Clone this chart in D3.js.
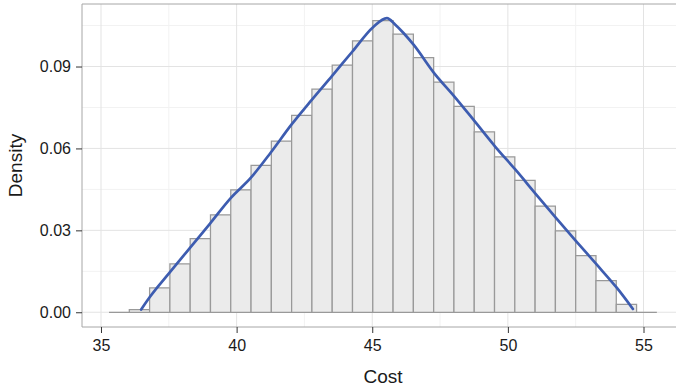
<!DOCTYPE html>
<html>
<head>
<meta charset="utf-8">
<script src="https://cdn.jsdelivr.net/npm/d3@7"></script>
<style>
  body { margin: 0; background: #fff; }
  text { font-family: "Liberation Sans", Arial, sans-serif; }
</style>
</head>
<body>
<div id="chart"></div>
<script>
// histogram bins (density per bin), bins start at binStart, each binWidth wide
const binStart = 35.296;
const binWidth = 0.748;
const binDensity = [
  0, 0.0010, 0.0089, 0.0177, 0.0270, 0.0357, 0.0448, 0.0538, 0.0627,
  0.0721, 0.0817, 0.0905, 0.0994, 0.1068, 0.1019, 0.0933, 0.0843,
  0.0754, 0.0661, 0.0569, 0.0483, 0.0389, 0.0298, 0.0207, 0.0116,
  0.0029, 0
];

// density curve
const curveX = [36.48, 36.78, 37.52, 38.28, 39.02, 39.79, 40.52, 41.26, 42.02,
  42.77, 43.52, 44.27, 45.03, 45.54, 45.85, 46.16, 46.53, 47.28, 48.03,
  48.78, 49.53, 50.28, 51.03, 51.78, 52.52, 53.27, 54.02, 54.61];
const curveY = [0.0010, 0.0053, 0.0144, 0.0236, 0.0325, 0.0419, 0.0492, 0.0585, 0.0687,
  0.0778, 0.0866, 0.0955, 0.1044, 0.1077, 0.1053, 0.1022, 0.0979, 0.0876, 0.0790,
  0.0699, 0.0607, 0.0522, 0.0433, 0.0345, 0.0260, 0.0175, 0.0089, 0.0012];

const xTicks = [35, 40, 45, 50, 55];
const xMinor = [37.5, 42.5, 47.5, 52.5];
const yTicks = [0, 0.03, 0.06, 0.09];
const yMinor = [0.015, 0.045, 0.075, 0.105];

const width = 676, height = 387;
const panel = { left: 82, top: 4, right: 684.2, bottom: 327 };

const svg = d3.select('#chart').append('svg')
  .attr('width', width)
  .attr('height', height);

const x = d3.scaleLinear().domain([34.3, 56.5]).range([panel.left, panel.right]);
const y = d3.scaleLinear().domain([-0.0054, 0.1129]).range([panel.bottom, panel.top]);

// grid
const grid = svg.append('g');
grid.selectAll('.xminor').data(xMinor).enter().append('line')
  .attr('x1', d => x(d)).attr('x2', d => x(d))
  .attr('y1', panel.top).attr('y2', panel.bottom)
  .attr('stroke', '#f2f2f2').attr('stroke-width', 1);
grid.selectAll('.yminor').data(yMinor).enter().append('line')
  .attr('y1', d => y(d)).attr('y2', d => y(d))
  .attr('x1', panel.left).attr('x2', panel.right)
  .attr('stroke', '#f2f2f2').attr('stroke-width', 1);
grid.selectAll('.xmajor').data(xTicks).enter().append('line')
  .attr('x1', d => x(d)).attr('x2', d => x(d))
  .attr('y1', panel.top).attr('y2', panel.bottom)
  .attr('stroke', '#e3e3e3').attr('stroke-width', 1);
grid.selectAll('.ymajor').data(yTicks).enter().append('line')
  .attr('y1', d => y(d)).attr('y2', d => y(d))
  .attr('x1', panel.left).attr('x2', panel.right)
  .attr('stroke', '#e3e3e3').attr('stroke-width', 1);

// bars (paths so empty bins still draw a baseline)
const bins = binDensity.map((d, i) => ({ x0: binStart + i * binWidth, x1: binStart + (i + 1) * binWidth, d }));
svg.append('g').selectAll('path').data(bins).enter().append('path')
  .attr('d', b => `M${x(b.x0)},${y(0)}V${y(b.d)}H${x(b.x1)}V${y(0)}Z`)
  .attr('fill', '#ebebeb')
  .attr('stroke', '#999')
  .attr('stroke-width', 1.25);

// density line
const pts = curveX.map((v, i) => [v, curveY[i]]);
svg.append('path')
  .datum(pts)
  .attr('fill', 'none')
  .attr('stroke', '#3d5cb0')
  .attr('stroke-width', 2.7)
  .attr('stroke-linecap', 'round')
  .attr('stroke-linejoin', 'round')
  .attr('d', d3.line().x(d => x(d[0])).y(d => y(d[1])).curve(d3.curveMonotoneX));

// panel border
svg.append('path')
  .attr('d', `M${panel.right},${panel.top}H${panel.left}V${panel.bottom}H${panel.right}`)
  .attr('fill', 'none')
  .attr('stroke', '#a6a6a6')
  .attr('stroke-width', 1);

// axes
const xAxis = svg.append('g')
  .attr('transform', `translate(0,${panel.bottom})`)
  .call(d3.axisBottom(x).tickValues(xTicks).tickSize(6).tickPadding(7).tickFormat(d3.format('d')));
xAxis.select('.domain').remove();
xAxis.selectAll('.tick line').attr('stroke', '#333');
xAxis.selectAll('text').attr('font-size', 16).attr('fill', '#1a1a1a')
  .attr('font-family', '"Liberation Sans", Arial, sans-serif');

const yAxis = svg.append('g')
  .attr('transform', `translate(${panel.left},0)`)
  .call(d3.axisLeft(y).tickValues(yTicks).tickSize(6).tickPadding(5).tickFormat(d3.format('.2f')));
yAxis.select('.domain').remove();
yAxis.selectAll('.tick line').attr('stroke', '#333');
yAxis.selectAll('text').attr('font-size', 16).attr('fill', '#1a1a1a')
  .attr('font-family', '"Liberation Sans", Arial, sans-serif');

// titles
svg.append('text')
  .attr('x', (panel.left + 684) / 2)
  .attr('y', 383)
  .attr('text-anchor', 'middle')
  .attr('font-size', 19)
  .attr('fill', '#1a1a1a')
  .text('Cost');

svg.append('text')
  .attr('transform', `translate(22,${(panel.top + panel.bottom) / 2}) rotate(-90)`)
  .attr('text-anchor', 'middle')
  .attr('font-size', 19)
  .attr('fill', '#1a1a1a')
  .text('Density');
</script>
</body>
</html>
